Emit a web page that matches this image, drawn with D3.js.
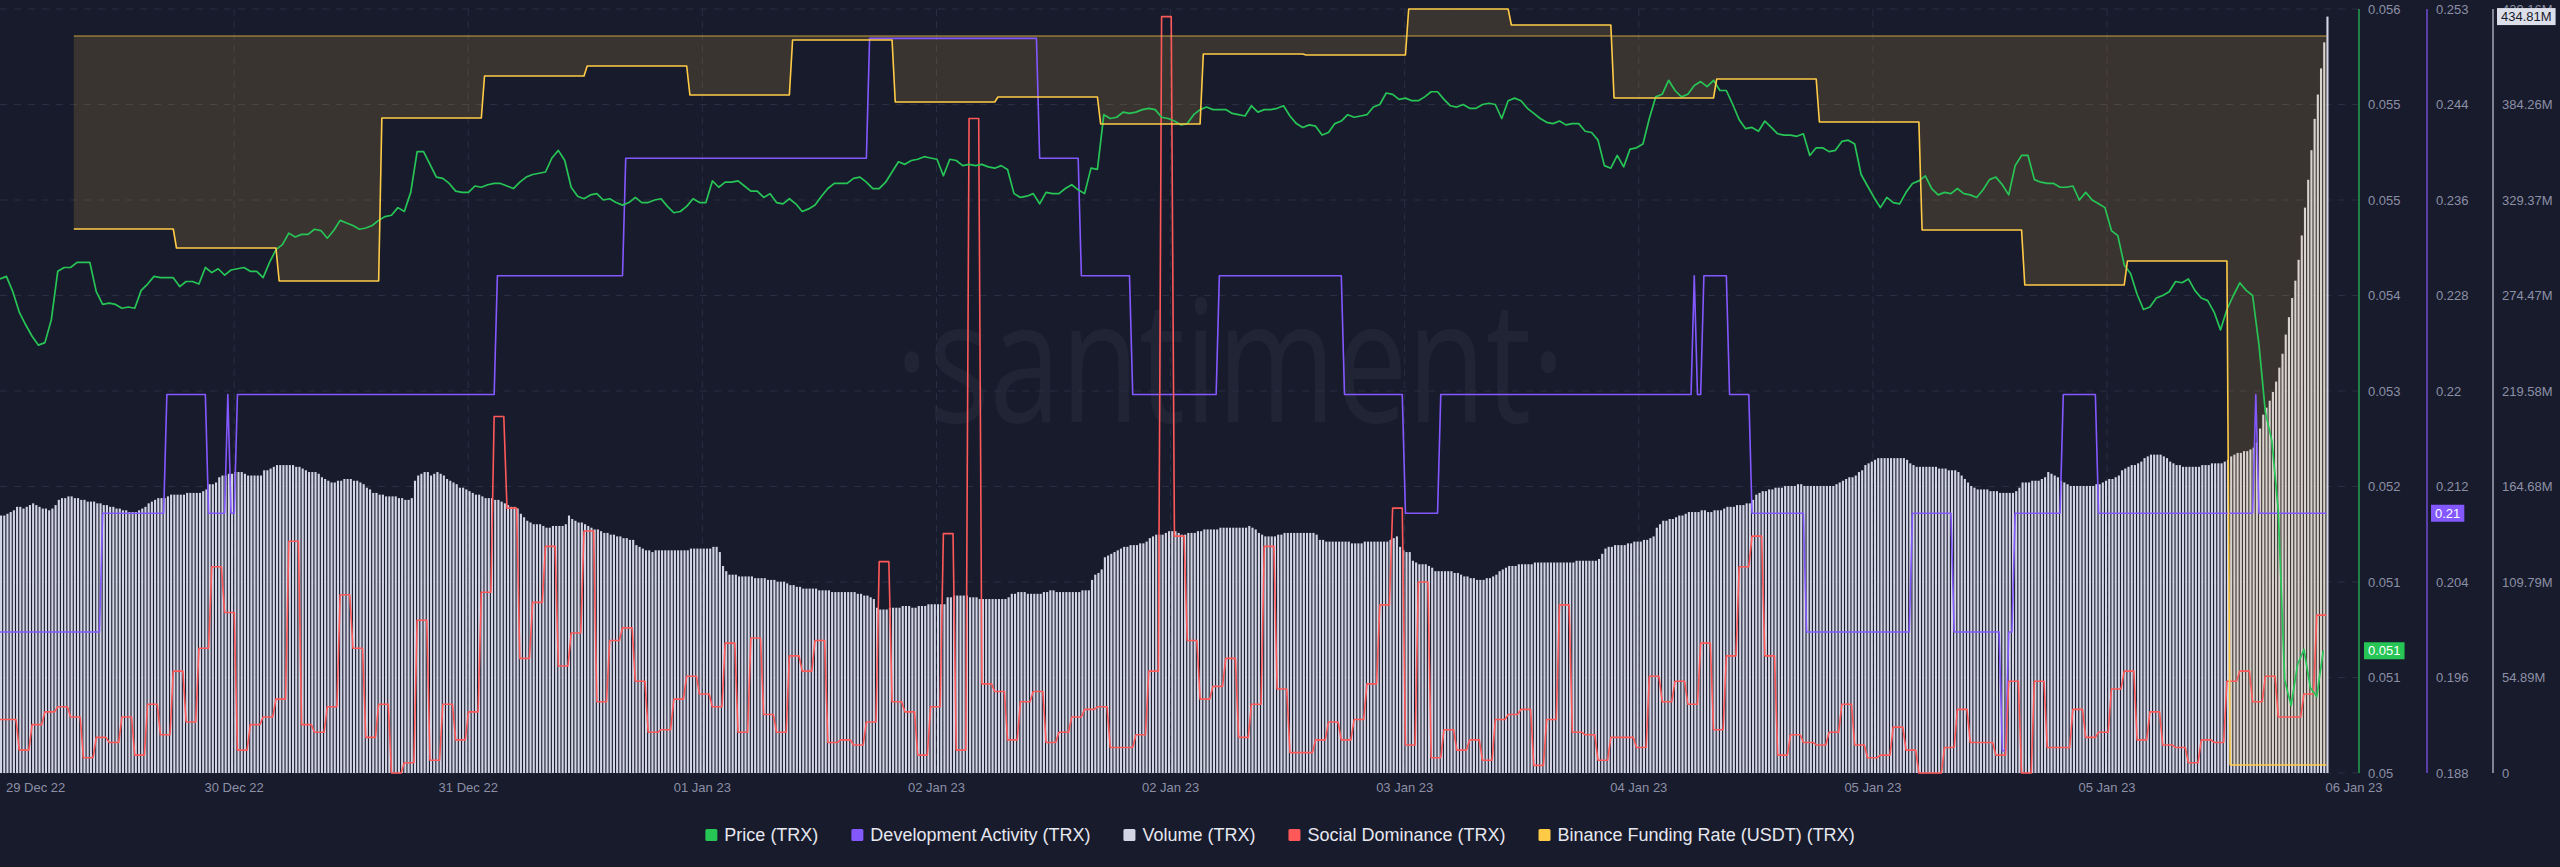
<!DOCTYPE html>
<html>
<head>
<meta charset="utf-8">
<script src="https://cdn.jsdelivr.net/npm/d3@7"></script>
<style>
  html, body { margin: 0; padding: 0; background: #181b2c; }
  svg { display: block; }
  text { font-family: "Liberation Sans", Arial, sans-serif; }
</style>
</head>
<body>
<div id="root"></div>
<script>
// TRX, 29 Dec 22 - 06 Jan 23. Time is in hours from the first sample.

var dateTicks = ['29 Dec 22', '30 Dec 22', '31 Dec 22', '01 Jan 23', '02 Jan 23', '02 Jan 23',
  '03 Jan 23', '04 Jan 23', '05 Jan 23', '05 Jan 23', '06 Jan 23'];
var priceTicks = ['0.05', '0.051', '0.051', '0.052', '0.053', '0.054', '0.055', '0.055', '0.056'];
var devTicks = ['0.188', '0.196', '0.204', '0.212', '0.22', '0.228', '0.236', '0.244', '0.253'];
var volumeTicks = ['0', '54.89M', '109.79M', '164.68M', '219.58M', '274.47M', '329.37M', '384.26M', '439.16M'];

// price (TRX, USD), one value every 30 min
var price = [
  0.05388, 0.05390, 0.05378, 0.05362, 0.05352, 0.05343, 0.05336, 0.05338, 0.05356, 0.05394,
  0.05397, 0.05397, 0.05401, 0.05401, 0.05401, 0.05378, 0.05368, 0.05369, 0.05368, 0.05365,
  0.05366, 0.05365, 0.05379, 0.05384, 0.05390, 0.05389, 0.05389, 0.05389, 0.05382, 0.05386,
  0.05386, 0.05384, 0.05397, 0.05393, 0.05396, 0.05391, 0.05395, 0.05396, 0.05397, 0.05394,
  0.05394, 0.05389, 0.05401, 0.05411, 0.05415, 0.05424, 0.05421, 0.05423, 0.05423, 0.05427,
  0.05426, 0.05420, 0.05426, 0.05434, 0.05432, 0.05430, 0.05427, 0.05428, 0.05430, 0.05434,
  0.05437, 0.05438, 0.05444, 0.05441, 0.05456, 0.05488, 0.05488, 0.05478, 0.05468, 0.05467,
  0.05463, 0.05457, 0.05456, 0.05456, 0.05461, 0.05460, 0.05462, 0.05463, 0.05463, 0.05461,
  0.05459, 0.05464, 0.05468, 0.05470, 0.05471, 0.05472, 0.05483, 0.05489, 0.05481, 0.05460,
  0.05453, 0.05451, 0.05454, 0.05455, 0.05450, 0.05451, 0.05448, 0.05446, 0.05448, 0.05452,
  0.05448, 0.05448, 0.05450, 0.05451, 0.05445, 0.05440, 0.05441, 0.05445, 0.05451, 0.05448,
  0.05448, 0.05465, 0.05460, 0.05464, 0.05464, 0.05465, 0.05461, 0.05457, 0.05457, 0.05452,
  0.05455, 0.05448, 0.05447, 0.05451, 0.05447, 0.05441, 0.05443, 0.05446, 0.05453, 0.05459,
  0.05463, 0.05463, 0.05463, 0.05467, 0.05468, 0.05464, 0.05459, 0.05459, 0.05464, 0.05472,
  0.05480, 0.05478, 0.05481, 0.05482, 0.05484, 0.05483, 0.05482, 0.05469, 0.05482, 0.05481,
  0.05477, 0.05478, 0.05477, 0.05478, 0.05476, 0.05475, 0.05477, 0.05474, 0.05455, 0.05452,
  0.05453, 0.05455, 0.05447, 0.05456, 0.05455, 0.05455, 0.05459, 0.05462, 0.05458, 0.05455,
  0.05475, 0.05474, 0.05517, 0.05514, 0.05515, 0.05519, 0.05518, 0.05519, 0.05521, 0.05522,
  0.05521, 0.05515, 0.05514, 0.05512, 0.05509, 0.05510, 0.05517, 0.05521, 0.05523, 0.05521,
  0.05521, 0.05521, 0.05518, 0.05517, 0.05516, 0.05524, 0.05519, 0.05521, 0.05521, 0.05522,
  0.05524, 0.05516, 0.05510, 0.05507, 0.05509, 0.05508, 0.05501, 0.05503, 0.05510, 0.05512,
  0.05517, 0.05515, 0.05516, 0.05517, 0.05523, 0.05525, 0.05534, 0.05533, 0.05529, 0.05530,
  0.05528, 0.05528, 0.05531, 0.05535, 0.05535, 0.05529, 0.05524, 0.05523, 0.05525, 0.05522,
  0.05522, 0.05525, 0.05526, 0.05525, 0.05514, 0.05528, 0.05530, 0.05528, 0.05522, 0.05518,
  0.05514, 0.05511, 0.05510, 0.05512, 0.05509, 0.05510, 0.05510, 0.05504, 0.05503, 0.05497,
  0.05477, 0.05475, 0.05485, 0.05476, 0.05490, 0.05491, 0.05494, 0.05514, 0.05531, 0.05533,
  0.05544, 0.05536, 0.05531, 0.05533, 0.05540, 0.05543, 0.05539, 0.05544, 0.05536, 0.05536,
  0.05525, 0.05513, 0.05506, 0.05507, 0.05504, 0.05512, 0.05507, 0.05502, 0.05501, 0.05501,
  0.05500, 0.05502, 0.05485, 0.05491, 0.05491, 0.05488, 0.05489, 0.05496, 0.05497, 0.05494,
  0.05470, 0.05461, 0.05452, 0.05444, 0.05452, 0.05448, 0.05447, 0.05456, 0.05463, 0.05465,
  0.05469, 0.05459, 0.05454, 0.05456, 0.05455, 0.05459, 0.05455, 0.05454, 0.05452, 0.05458,
  0.05466, 0.05468, 0.05462, 0.05454, 0.05477, 0.05485, 0.05485, 0.05466, 0.05464, 0.05463,
  0.05463, 0.05460, 0.05460, 0.05461, 0.05450, 0.05456, 0.05450, 0.05447, 0.05444, 0.05426,
  0.05422, 0.05399, 0.05392, 0.05376, 0.05364, 0.05366, 0.05373, 0.05375, 0.05378, 0.05386,
  0.05385, 0.05388, 0.05379, 0.05373, 0.05371, 0.05362, 0.05348, 0.05364, 0.05375, 0.05385,
  0.05379, 0.05375, 0.05336, 0.05283, 0.05261, 0.05206, 0.05073, 0.05053, 0.05085, 0.05097,
  0.05067, 0.05060, 0.05096
];

// volume (millions of USD), one bar every 15 min
var volume = [
  148, 148, 149, 150, 151, 153, 153, 152, 153, 154, 155, 154, 153, 152, 152, 151, 152, 154, 157, 158,
  158, 159, 159, 158, 158, 157, 157, 156, 156, 156, 155, 155, 154, 154, 153, 153, 152, 152, 151, 151,
  150, 150, 150, 151, 152, 153, 155, 156, 157, 158, 158, 158, 159, 160, 160, 160, 160, 160, 161, 161,
  161, 161, 161, 162, 163, 166, 166, 167, 170, 171, 171, 172, 172, 173, 173, 173, 172, 171, 171, 171,
  171, 171, 174, 174, 175, 176, 177, 177, 177, 177, 177, 177, 176, 176, 175, 174, 173, 173, 173, 172,
  170, 169, 168, 167, 167, 168, 168, 169, 169, 169, 168, 168, 167, 166, 164, 163, 161, 161, 160, 160,
  159, 159, 159, 159, 158, 158, 157, 157, 158, 168, 171, 172, 173, 173, 171, 172, 173, 172, 171, 169,
  168, 167, 166, 164, 164, 163, 162, 161, 160, 160, 159, 158, 158, 158, 157, 157, 156, 155, 154, 153,
  153, 152, 149, 147, 145, 144, 143, 143, 143, 142, 141, 141, 142, 142, 142, 142, 143, 148, 146, 145,
  144, 144, 143, 142, 141, 140, 140, 139, 138, 138, 137, 137, 136, 136, 135, 135, 134, 134, 131, 130,
  129, 128, 128, 127, 128, 128, 128, 128, 128, 128, 128, 128, 128, 128, 128, 129, 129, 129, 129, 129,
  129, 129, 130, 130, 127, 119, 116, 114, 114, 114, 113, 113, 113, 113, 113, 112, 112, 112, 112, 111,
  111, 111, 110, 110, 110, 109, 108, 108, 107, 107, 106, 106, 106, 106, 106, 105, 105, 105, 105, 104,
  104, 104, 104, 104, 104, 104, 104, 103, 103, 102, 102, 101, 100, 95, 94, 94, 94, 95, 95, 95,
  95, 96, 96, 96, 95, 95, 96, 96, 96, 97, 97, 97, 97, 97, 97, 101, 101, 102, 102, 102,
  102, 102, 101, 101, 101, 100, 100, 100, 100, 100, 100, 100, 100, 100, 101, 103, 103, 104, 104, 104,
  103, 103, 103, 103, 103, 104, 104, 105, 105, 104, 104, 104, 104, 104, 104, 104, 104, 105, 105, 105,
  111, 114, 115, 117, 124, 125, 126, 127, 128, 129, 130, 130, 131, 131, 131, 132, 132, 133, 135, 136,
  137, 137, 137, 138, 139, 139, 139, 138, 137, 137, 138, 138, 138, 139, 139, 140, 140, 140, 140, 140,
  141, 141, 141, 141, 141, 141, 141, 141, 141, 142, 141, 140, 138, 137, 136, 136, 136, 136, 137, 137,
  138, 138, 138, 138, 138, 138, 138, 138, 138, 138, 137, 134, 134, 133, 133, 133, 133, 133, 133, 133,
  133, 132, 132, 132, 132, 133, 133, 133, 133, 133, 133, 133, 133, 134, 135, 136, 130, 128, 127, 127,
  122, 121, 120, 120, 120, 119, 118, 116, 116, 116, 116, 116, 116, 115, 115, 114, 113, 113, 112, 112,
  111, 111, 111, 112, 112, 113, 114, 116, 117, 118, 119, 119, 119, 120, 120, 120, 120, 120, 121, 121,
  121, 121, 121, 121, 121, 121, 121, 121, 121, 121, 121, 122, 122, 122, 122, 122, 122, 122, 123, 126,
  129, 130, 130, 131, 131, 131, 131, 132, 132, 133, 133, 133, 134, 134, 135, 136, 141, 143, 145, 145,
  146, 146, 147, 148, 148, 149, 150, 150, 150, 150, 151, 151, 150, 150, 151, 151, 151, 152, 153, 153,
  153, 154, 154, 154, 155, 155, 157, 160, 161, 162, 162, 163, 163, 164, 164, 164, 165, 165, 165, 165,
  166, 166, 165, 165, 165, 165, 165, 165, 165, 165, 165, 165, 166, 167, 168, 169, 170, 170, 171, 173,
  174, 177, 178, 179, 180, 181, 181, 181, 181, 181, 181, 181, 181, 181, 180, 178, 177, 176, 176, 176,
  176, 176, 176, 176, 175, 175, 175, 174, 174, 174, 173, 171, 169, 167, 165, 164, 163, 163, 163, 163,
  162, 162, 162, 161, 161, 161, 161, 161, 162, 164, 167, 167, 167, 168, 168, 168, 169, 170, 173, 172,
  171, 170, 168, 167, 166, 165, 165, 165, 165, 165, 165, 165, 165, 166, 166, 167, 168, 169, 169, 170,
  171, 174, 175, 176, 177, 177, 178, 179, 181, 182, 183, 183, 183, 183, 182, 181, 179, 178, 177, 177,
  176, 176, 176, 176, 176, 176, 177, 177, 177, 178, 178, 178, 178, 179, 180, 182, 183, 184, 184, 185,
  185, 186, 187, 190, 198, 206, 210, 214, 219, 225, 233, 241, 252, 262, 273, 283, 295, 309, 325, 341,
  358, 376, 390, 405, 420, 434.81
];

// social dominance (%), hourly
var social = [
  0.21, 0.09, 0.19, 0.24, 0.26, 0.22, 0.06, 0.14, 0.12, 0.22, 0.07, 0.27, 0.15, 0.40, 0.20, 0.49,
  0.81, 0.63, 0.09, 0.19, 0.22, 0.29, 0.91, 0.19, 0.16, 0.26, 0.70, 0.49, 0.14, 0.27, 0.00, 0.04,
  0.60, 0.05, 0.27, 0.13, 0.24, 0.71, 1.40, 1.04, 0.45, 0.67, 0.89, 0.42, 0.55, 0.95,
  0.28, 0.52, 0.57, 0.36, 0.16, 0.17, 0.29, 0.38, 0.31, 0.26, 0.51, 0.16, 0.53, 0.23, 0.16, 0.46,
  0.40, 0.52, 0.12, 0.13, 0.11, 0.20, 0.83, 0.28, 0.24, 0.07, 0.26, 0.94, 0.09, 2.57, 0.35, 0.32,
  0.13, 0.28, 0.32, 0.12, 0.16, 0.22, 0.25, 0.26, 0.10, 0.10, 0.15, 0.40, 2.97, 0.93,
  0.52, 0.29, 0.34, 0.45, 0.14, 0.27, 0.89, 0.33, 0.08, 0.08, 0.13, 0.20, 0.13, 0.21, 0.35, 0.66,
  1.04, 0.11, 0.75, 0.06, 0.17, 0.09, 0.13, 0.05, 0.21, 0.23, 0.25, 0.03, 0.21, 0.66, 0.16, 0.15,
  0.05, 0.14, 0.14, 0.10, 0.38, 0.28, 0.36, 0.27, 0.51, 0.17, 0.46, 0.81, 0.93, 0.46,
  0.07, 0.15, 0.12, 0.11, 0.16, 0.27, 0.11, 0.06, 0.07, 0.18, 0.09, 0.00, 0.00, 0.10, 0.25, 0.12,
  0.12, 0.07, 0.36, 0.00, 0.36, 0.10, 0.10, 0.25, 0.14, 0.16, 0.33, 0.40, 0.13, 0.24, 0.11, 0.10,
  0.04, 0.13, 0.12, 0.36, 0.40, 0.28, 0.38, 0.22, 0.22, 0.31, 0.62
];

// development activity: hour where each new level starts, and the level
var devHours = [0, 8, 13, 16.25, 17.75, 18, 18.5, 38.75, 48.75, 67.75, 81, 84.25, 88.25, 95,
  104.75, 109.5, 112.25, 132, 132.25, 132.75, 134.75, 136.5, 140.75, 149, 152.25, 156, 156.5,
  157, 160.75, 163.5, 175.75, 176];
var devValues = [0.2000, 0.2101, 0.2202, 0.2101, 0.2202, 0.2101, 0.2202, 0.2303, 0.2403, 0.2505,
  0.2403, 0.2303, 0.2202, 0.2303, 0.2202, 0.2101, 0.2202, 0.2303, 0.2202, 0.2303, 0.2202, 0.2101,
  0.2000, 0.2101, 0.2000, 0.1899, 0.2000, 0.2101, 0.2202, 0.2101, 0.2202, 0.2101];

// Binance funding rate (%), changes every 8 hours
var fundingHours = [5.75, 13.75, 21.75, 29.75, 37.75, 45.75, 53.75, 61.75, 69.75, 77.75, 85.75,
  93.75, 101.75, 109.75, 117.75, 125.75, 133.75, 141.75, 149.75, 157.75, 165.75, 173.75];
var fundingValues = [-0.00965, -0.0106, -0.01225, -0.0041, -0.002, -0.0015, -0.00295, -0.0002,
  -0.0033, -0.00305, -0.0044, -0.0009, -0.00095, 0.00135, 0.00055, -0.0031, -0.00215, -0.0043,
  -0.0097, -0.01245, -0.01125, -0.03645];

var legendNames = ['Price (TRX)', 'Development Activity (TRX)', 'Volume (TRX)',
  'Social Dominance (TRX)', 'Binance Funding Rate (USDT) (TRX)'];

function drawChart() {

  var width = 2560;
  var height = 867;
  var plotTop = 9;
  var plotBottom = 773;
  var plotRight = 2358;
  var endHour = 181.25;
  var stepHour = 0.25;

  var colors = {
    price: '#27c456',
    dev: '#8358ff',
    volume: '#d3d5e5',
    social: '#ff5858',
    funding: '#ffcb47'
  };

  var x = d3.scaleLinear().domain([0, 183.4]).range([0, 2354]);
  var yPrice = d3.scaleLinear().domain([0.05, 0.056]).range([plotBottom, plotTop]);
  var yDev = d3.scaleLinear().domain([0.188, 0.253]).range([plotBottom, plotTop]);
  var yVolume = d3.scaleLinear().domain([0, 439.16]).range([plotBottom, plotTop]);
  var ySocial = d3.scaleLinear().domain([0, 3]).range([plotBottom, plotTop]);
  var yFunding = d3.scaleLinear().domain([-0.03685, 0.00135]).range([plotBottom, plotTop]);

  var gridY = d3.range(9).map(function(k) { return yPrice(0.05 + k * 0.00075); });
  var tickHours = d3.range(10).map(function(k) { return k * 18.24; }).concat([183.4]);

  // step series: hold each level until one sample before the next change
  function steps(hours, values) {
    var pts = [];
    hours.forEach(function(h, k) {
      var until = k < hours.length - 1 ? hours[k + 1] - stepHour : endHour;
      pts.push([h, values[k]]);
      if (until > h) pts.push([until, values[k]]);
    });
    return pts;
  }

  var svg = d3.select('#root')
    .append('svg')
      .attr('width', width)
      .attr('height', height);

  svg.append('rect')
    .attr('width', width)
    .attr('height', height)
    .attr('fill', '#181b2c');

  // watermark
  svg.append('text')
    .attr('x', 1230)
    .attr('y', 422)
    .attr('text-anchor', 'middle')
    .attr('textLength', 670)
    .attr('lengthAdjust', 'spacingAndGlyphs')
    .style('font-family', '"Open Sans", sans-serif')
    .style('font-size', '170px')
    .attr('fill', '#ffffff')
    .attr('fill-opacity', 0.045)
    .text('\u00b7santiment\u00b7');

  // grid
  svg.append('g')
    .selectAll('line')
    .data(gridY)
    .enter().append('line')
      .attr('x1', 0)
      .attr('x2', plotRight)
      .attr('y1', function(d) { return d; })
      .attr('y2', function(d) { return d; })
      .attr('stroke', '#2a2e42')
      .attr('stroke-dasharray', '7,7');

  svg.append('g')
    .selectAll('line')
    .data(tickHours.slice(1, 10))
    .enter().append('line')
      .attr('x1', function(d) { return x(d); })
      .attr('x2', function(d) { return x(d); })
      .attr('y1', plotTop)
      .attr('y2', plotBottom)
      .attr('stroke', '#2a2e42')
      .attr('stroke-dasharray', '7,5');

  // volume bars
  svg.append('g')
    .selectAll('rect')
    .data(volume)
    .enter().append('rect')
      .attr('x', function(d, i) { return x(i * stepHour); })
      .attr('width', 2.1)
      .attr('y', function(d) { return yVolume(d); })
      .attr('height', function(d) { return plotBottom - yVolume(d); })
      .attr('fill', colors.volume);

  // funding rate area, between the rate and zero
  var fundingPts = steps(fundingHours, fundingValues);

  svg.append('path')
    .datum(fundingPts)
    .attr('fill', colors.funding)
    .attr('fill-opacity', 0.15)
    .attr('d', d3.area()
      .x(function(d) { return x(d[0]); })
      .y0(yFunding(0))
      .y1(function(d) { return yFunding(d[1]); }));

  // development activity
  svg.append('path')
    .datum(steps(devHours, devValues))
    .attr('fill', 'none')
    .attr('stroke', colors.dev)
    .attr('stroke-width', 1.6)
    .attr('stroke-linejoin', 'round')
    .attr('d', d3.line()
      .x(function(d) { return x(d[0]); })
      .y(function(d) { return yDev(d[1]); }));

  // social dominance
  var socialHours = social.map(function(d, i) { return i === 0 ? 0 : i + 0.5; });

  svg.append('path')
    .datum(steps(socialHours, social))
    .attr('fill', 'none')
    .attr('stroke', colors.social)
    .attr('stroke-width', 1.6)
    .attr('stroke-linejoin', 'round')
    .attr('d', d3.line()
      .x(function(d) { return x(d[0]); })
      .y(function(d) { return ySocial(d[1]); }));

  // price
  svg.append('path')
    .datum(price)
    .attr('fill', 'none')
    .attr('stroke', colors.price)
    .attr('stroke-width', 1.7)
    .attr('stroke-linejoin', 'round')
    .attr('d', d3.line()
      .x(function(d, j) { return x(j * 0.5); })
      .y(function(d) { return yPrice(d); }));

  // funding rate line and its zero line
  svg.append('line')
    .attr('x1', x(fundingHours[0]))
    .attr('x2', x(endHour))
    .attr('y1', yFunding(0))
    .attr('y2', yFunding(0))
    .attr('stroke', colors.funding)
    .attr('stroke-opacity', 0.75)
    .attr('stroke-width', 1);

  svg.append('path')
    .datum(fundingPts)
    .attr('fill', 'none')
    .attr('stroke', colors.funding)
    .attr('stroke-width', 1.6)
    .attr('stroke-linejoin', 'round')
    .attr('d', d3.line()
      .x(function(d) { return x(d[0]); })
      .y(function(d) { return yFunding(d[1]); }));

  // x axis labels
  svg.append('g')
    .selectAll('text')
    .data(dateTicks)
    .enter().append('text')
      .attr('x', function(d, i) { return i === 0 ? x(tickHours[0]) + 6 : x(tickHours[i]); })
      .attr('y', 787)
      .attr('dy', '0.35em')
      .attr('text-anchor', function(d, i) { return i === 0 ? 'start' : 'middle'; })
      .attr('fill', '#8c90a6')
      .style('font-size', '13px')
      .text(function(d) { return d; });

  // right axes
  var axes = [
    { x: 2359, color: colors.price, labels: priceTicks },
    { x: 2427, color: colors.dev, labels: devTicks },
    { x: 2493, color: '#c9cbda', labels: volumeTicks }
  ];

  axes.forEach(function(a) {
    svg.append('line')
      .attr('x1', a.x)
      .attr('x2', a.x)
      .attr('y1', plotTop)
      .attr('y2', plotBottom)
      .attr('stroke', a.color)
      .attr('stroke-width', 1.2);

    svg.append('g')
      .selectAll('text')
      .data(a.labels)
      .enter().append('text')
        .attr('x', a.x + 9)
        .attr('y', function(d, k) { return gridY[k]; })
        .attr('dy', '0.35em')
        .attr('fill', '#8c90a6')
        .style('font-size', '13px')
        .text(function(d) { return d; });
  });

  // last value boxes
  function lastValue(axisX, y, label, fill, textColor) {
    var g = svg.append('g');
    var t = g.append('text')
      .attr('x', axisX + 8)
      .attr('y', y)
      .attr('dy', '0.35em')
      .attr('fill', textColor)
      .style('font-size', '13px')
      .text(label);
    var w = t.node().getComputedTextLength();
    g.insert('rect', 'text')
      .attr('x', axisX + 4)
      .attr('y', y - 8.5)
      .attr('width', w + 8)
      .attr('height', 17)
      .attr('fill', fill);
  }

  var lastPrice = price[price.length - 1];
  var lastDev = devValues[devValues.length - 1];
  var lastVolume = volume[volume.length - 1];

  lastValue(2360, yPrice(lastPrice), d3.format('.3f')(lastPrice), colors.price, '#ffffff');
  lastValue(2427, yDev(lastDev), d3.format('.2f')(lastDev), colors.dev, '#ffffff');
  lastValue(2493, yVolume(lastVolume), d3.format('.2f')(lastVolume) + 'M', '#dcdeea', '#181b2c');

  // legend
  var legendColors = [colors.price, colors.dev, colors.volume, colors.social, colors.funding];
  var legend = svg.append('g');
  var cursor = 0;

  legendNames.forEach(function(name, i) {
    var item = legend.append('g').attr('transform', 'translate(' + cursor + ',0)');
    item.append('rect')
      .attr('x', 0)
      .attr('y', -6)
      .attr('width', 12)
      .attr('height', 12)
      .attr('rx', 1.5)
      .attr('fill', legendColors[i]);
    var t = item.append('text')
      .attr('x', 19)
      .attr('y', 0)
      .attr('dy', '0.35em')
      .attr('fill', '#e6e7ef')
      .style('font-size', '18px')
      .text(name);
    cursor += 19 + t.node().getComputedTextLength() + 33;
  });

  var legendWidth = cursor - 33;
  legend.attr('transform', 'translate(' + (width / 2 - legendWidth / 2) + ',835)');
}

drawChart();
</script>
</body>
</html>
